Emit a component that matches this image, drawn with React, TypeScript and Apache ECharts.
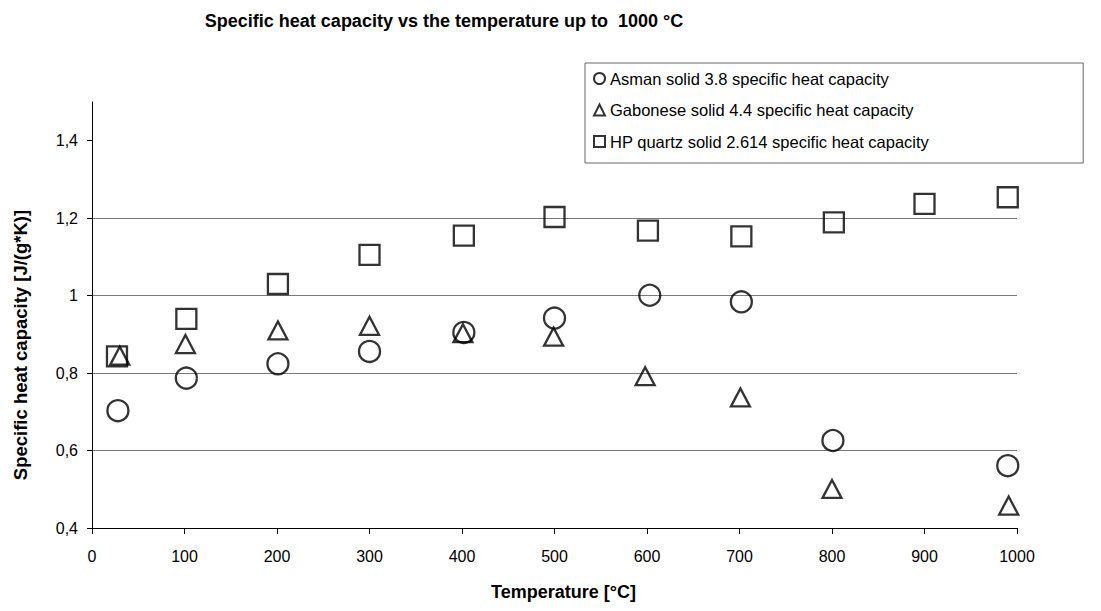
import React, { useEffect, useRef } from "react";
import * as echarts from "echarts";

const title = "Specific heat capacity vs the temperature up to  1000 °C";
const xName = "Temperature [°C]";
const yName = "Specific heat capacity [J/(g*K)]";

const seriesNames = [
  "Asman solid 3.8 specific heat capacity",
  "Gabonese solid 4.4 specific heat capacity",
  "HP quartz solid 2.614 specific heat capacity",
];

const asmanX = [28, 102, 201, 300, 402, 500, 603, 702, 801, 990];
const asmanY = [0.703, 0.787, 0.824, 0.856, 0.905, 0.942, 1.001, 0.984, 0.626, 0.561];

const gaboneseX = [30, 101, 201, 300, 401, 499, 598, 701, 800, 991];
const gaboneseY = [0.845, 0.875, 0.91, 0.922, 0.903, 0.894, 0.792, 0.737, 0.501, 0.458];

const quartzX = [27, 102, 201, 300, 402, 500, 601, 702, 802, 900, 990];
const quartzY = [0.843, 0.94, 1.03, 1.105, 1.155, 1.203, 1.168, 1.153, 1.189, 1.237, 1.254];

const yTicks = [0.4, 0.6, 0.8, 1, 1.2, 1.4];

const FONT = '"Liberation Sans", Arial, sans-serif';

function zip(xs: number[], ys: number[]) {
  return xs.map((x, i) => [x, ys[i]]);
}

export default function App() {
  const ref = useRef<HTMLDivElement>(null);

  useEffect(() => {
    if (!ref.current) return;
    const chart = echarts.init(ref.current, null, { renderer: "svg" });
    const markerStyle = {
      color: "transparent",
      borderColor: "#000",
      borderWidth: 2.3,
    };
    chart.setOption({
      animation: false,
      backgroundColor: "#fff",
      textStyle: { fontFamily: FONT },
      title: {
        text: title,
        left: 439,
        top: 7,
        textAlign: "center",
        textStyle: { fontFamily: FONT, fontSize: 18, fontWeight: "bold", color: "#000" },
      },
      legend: {
        orient: "vertical",
        left: 585,
        top: 63,
        padding: [7, 154, 13, 8],
        itemGap: 14.5,
        itemWidth: 11,
        itemHeight: 11,
        backgroundColor: "#fff",
        borderColor: "#666",
        borderWidth: 1,
        itemStyle: { borderWidth: 2 },
        textStyle: { fontFamily: FONT, fontSize: 16.5, color: "#000" },
        data: seriesNames,
      },
      grid: { left: 92, right: 84, top: 102, bottom: 83 },
      xAxis: {
        type: "value",
        min: 0,
        max: 1000,
        interval: 100,
        name: xName,
        nameLocation: "middle",
        nameGap: 55,
        nameTextStyle: {
          fontFamily: FONT,
          fontSize: 18,
          fontWeight: "bold",
          color: "#000",
          padding: [0, 0, 0, 18],
        },
        axisLine: { lineStyle: { color: "#000", width: 1 } },
        axisTick: { show: true, length: 6, lineStyle: { color: "#000" } },
        axisLabel: {
          fontFamily: FONT,
          fontSize: 16,
          color: "#000",
          margin: 20,
          formatter: (v: number) => String(v),
        },
        splitLine: { show: false },
      },
      yAxis: {
        type: "value",
        min: 0.4,
        max: 1.5,
        interval: 0.2,
        name: yName,
        nameLocation: "middle",
        nameRotate: 90,
        nameGap: 62,
        nameTextStyle: {
          fontFamily: FONT,
          fontSize: 18.5,
          fontWeight: "bold",
          color: "#000",
          padding: [0, 60, 0, 0],
        },
        axisLine: { show: true, lineStyle: { color: "#000", width: 1 } },
        axisTick: { show: true, length: 5, lineStyle: { color: "#000" }, customValues: yTicks },
        axisLabel: {
          fontFamily: FONT,
          fontSize: 16,
          color: "#000",
          margin: 14,
          customValues: yTicks,
          formatter: (v: number) => String(Math.round(v * 10) / 10).replace(".", ","),
        },
        splitLine: {
          show: true,
          showMinLine: false,
          showMaxLine: false,
          lineStyle: { color: "#7a7a7a", width: 1 },
        },
      },
      series: [
        {
          name: seriesNames[0],
          type: "scatter",
          symbol: "circle",
          symbolSize: 21,
          itemStyle: markerStyle,
          data: zip(asmanX, asmanY),
        },
        {
          name: seriesNames[1],
          type: "scatter",
          symbol: "triangle",
          symbolSize: [19, 18],
          itemStyle: markerStyle,
          data: zip(gaboneseX, gaboneseY),
        },
        {
          name: seriesNames[2],
          type: "scatter",
          symbol: "rect",
          symbolSize: 20,
          itemStyle: markerStyle,
          data: zip(quartzX, quartzY),
        },
      ],
    });
    return () => chart.dispose();
  }, []);

  return <div ref={ref} style={{ width: 1101, height: 611, margin: -8 }} />;
}
